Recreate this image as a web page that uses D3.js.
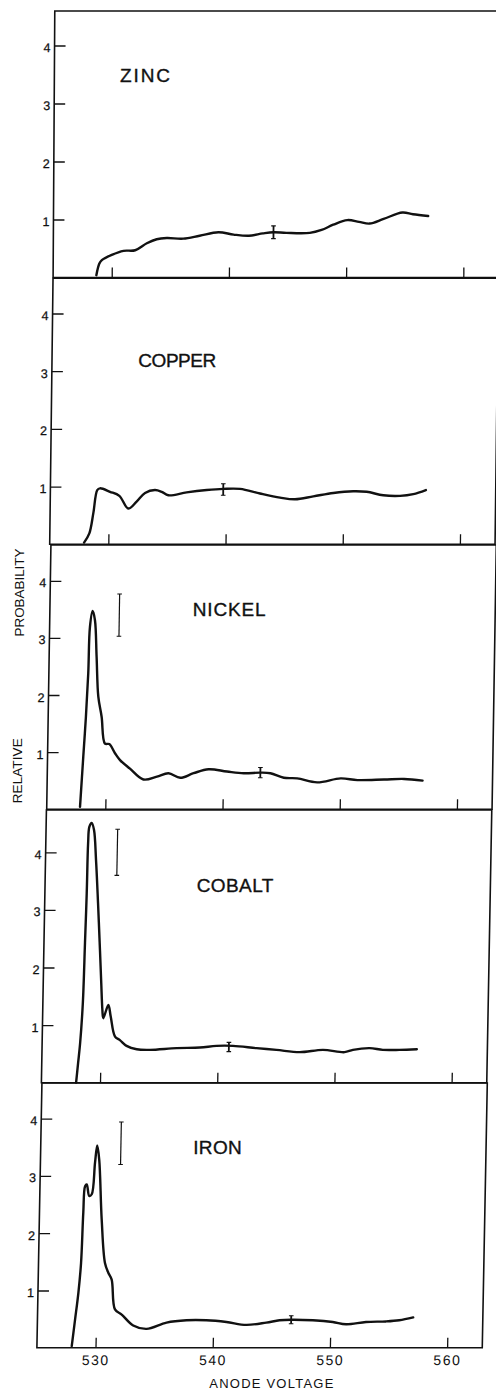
<!DOCTYPE html>
<html>
<head>
<meta charset="utf-8">
<script src="https://cdn.jsdelivr.net/npm/d3@7"></script>
<style>
  html, body { margin: 0; padding: 0; background: #fff; }
  svg { display: block; }
  text { font-family: "Liberation Sans", Arial, sans-serif; fill: #111; }
</style>
</head>
<body>
<svg id="fig" width="496" height="1390"></svg>
<script>
// ---- axis ticks ----
const voltageTicks = [530, 540, 550, 560];
const probabilityTicks = [1, 2, 3, 4];
const voltageRange = [525, 563];

// ---- panels, top to bottom ----
const elements = ["ZINC", "COPPER", "NICKEL", "COBALT", "IRON"];

// relative probability vs anode voltage: [volts, relative probability]
const zincCurve = [
  [528.69, 0.04], [528.94, 0.24], [529.15, 0.30], [529.99, 0.39], [530.99, 0.46],
  [531.99, 0.47], [532.98, 0.59], [533.82, 0.66], [534.68, 0.68], [536.08, 0.67],
  [537.48, 0.72], [539.08, 0.78], [540.38, 0.74], [541.68, 0.72], [542.88, 0.76],
  [543.78, 0.78], [544.88, 0.77], [546.88, 0.77], [547.88, 0.82], [548.87, 0.91],
  [550.07, 0.99], [551.07, 0.96], [551.97, 0.93], [553.17, 1.01], [554.77, 1.12],
  [555.67, 1.09], [556.97, 1.06]
];
const copperCurve = [
  [527.93, 0.03], [528.37, 0.19], [528.69, 0.54], [529.00, 0.94], [529.23, 0.97],
  [530.09, 0.91], [530.89, 0.84], [531.67, 0.62], [532.37, 0.74], [533.08, 0.89],
  [533.92, 0.94], [534.50, 0.91], [535.07, 0.85], [536.63, 0.90], [538.34, 0.94],
  [539.75, 0.96], [541.18, 0.96], [542.89, 0.88], [544.60, 0.81], [545.88, 0.78],
  [547.44, 0.83], [549.15, 0.89], [550.84, 0.92], [551.99, 0.91], [553.41, 0.85],
  [554.84, 0.84], [555.97, 0.87], [557.04, 0.94]
];
const nickelCurve = [
  [527.84, 0.04], [528.05, 0.92], [528.22, 1.62], [528.36, 2.38], [528.44, 3.19],
  [528.65, 3.47], [528.86, 3.31], [529.05, 2.67], [529.25, 1.97], [529.56, 1.62],
  [529.88, 1.15], [530.25, 1.14], [530.75, 0.98], [531.19, 0.86], [532.05, 0.71],
  [533.21, 0.52], [534.36, 0.57], [535.34, 0.63], [536.35, 0.55], [537.48, 0.63],
  [538.76, 0.70], [540.33, 0.66], [541.76, 0.63], [543.18, 0.64], [544.04, 0.63],
  [545.19, 0.55], [546.33, 0.54], [548.04, 0.47], [550.04, 0.54], [551.47, 0.51],
  [553.74, 0.52], [555.45, 0.53], [557.03, 0.50]
];
const cobaltCurve = [
  [527.96, 0.00], [528.10, 0.34], [528.24, 0.68], [528.41, 1.38], [528.50, 2.43],
  [528.57, 3.29], [528.61, 4.16], [528.69, 4.44], [528.88, 4.51], [529.09, 4.39],
  [529.31, 3.87], [529.55, 3.12], [529.79, 2.30], [529.95, 1.73], [530.09, 1.26],
  [530.18, 1.12], [530.59, 1.35], [530.81, 1.15], [531.21, 0.80], [531.63, 0.74],
  [532.21, 0.64], [533.08, 0.58], [534.21, 0.57], [536.48, 0.60], [538.47, 0.61],
  [539.88, 0.64], [541.29, 0.64], [543.30, 0.60], [545.00, 0.57], [547.00, 0.53],
  [548.97, 0.57], [550.82, 0.53], [551.53, 0.57], [552.95, 0.60], [554.08, 0.57],
  [555.50, 0.57], [556.98, 0.58]
];
const ironCurve = [
  [527.97, 0.03], [528.21, 0.49], [528.45, 0.96], [528.63, 1.48], [528.74, 2.36],
  [528.85, 2.82], [528.99, 2.85], [529.22, 2.65], [529.43, 2.68], [529.66, 3.23],
  [529.82, 3.53], [530.01, 3.29], [530.32, 2.24], [530.67, 1.48], [530.97, 1.31],
  [531.27, 1.19], [531.60, 0.67], [532.18, 0.58], [533.18, 0.39], [534.33, 0.33],
  [536.02, 0.44], [537.72, 0.48], [539.42, 0.48], [541.13, 0.45], [542.83, 0.40],
  [544.53, 0.44], [545.66, 0.48], [546.65, 0.49], [548.50, 0.48], [550.20, 0.45],
  [551.34, 0.41], [553.04, 0.45], [554.74, 0.46], [555.87, 0.48], [557.06, 0.53]
];

// error bars: [volts, centre value, half range]
const zincErrors   = [[543.78, 0.78, 0.11]];
const copperErrors = [[539.75, 0.95, 0.10]];
const nickelErrors = [[530.93, 3.40, 0.37], [543.18, 0.64, 0.09]];
const cobaltErrors = [[531.11, 4.00, 0.40], [540.94, 0.62, 0.08]];
const ironErrors   = [[531.84, 3.57, 0.37], [546.65, 0.49, 0.07]];

const curves = [zincCurve, copperCurve, nickelCurve, cobaltCurve, ironCurve];
const errorBars = [zincErrors, copperErrors, nickelErrors, cobaltErrors, ironErrors];

// ---- page layout of each panel (pixels) ----
const panelLayout = [
  { left: 53.1, zero: 277.5,  top: 11,    unit: 58.0, lean: 0.0063, label: [120.0, 81.7, 50] },
  { left: 49.7, zero: 544.3,  top: 278.3, unit: 57.7, lean: 0.0125, label: [138.3, 366.7, 78] },
  { left: 46.7, zero: 809.2,  top: 545,   unit: 57.1, lean: 0.016,  label: [192.7, 616.0, 73] },
  { left: 41.4, zero: 1082.7, top: 810,   unit: 57.6, lean: 0.0184, label: [196.7, 891.7, 76.6] },
  { left: 36.9, zero: 1347.8, top: 1083,  unit: 57.3, lean: 0.019,  label: [193.3, 1154.0, 48.4] }
];
const pxPerVolt = 11.72;

const svg = d3.select("#fig");
svg.append("rect").attr("width", 496).attr("height", 1390).attr("fill", "#fff");

const ink = "#111";

elements.forEach((name, i) => {
  const L = panelLayout[i];
  const width = (voltageRange[1] - voltageRange[0]) * pxPerVolt;
  const x = d3.scaleLinear().domain(voltageRange).range([0, width]);
  const y = d3.scaleLinear().domain([0, 4]).range([0, -4 * L.unit]);
  const angle = -Math.atan(L.lean) * 180 / Math.PI;

  const g = svg.append("g")
    .attr("transform", `translate(${L.left},${L.zero}) skewX(${angle})`);

  // frame
  g.append("rect")
    .attr("x", 0).attr("y", L.top - L.zero)
    .attr("width", width).attr("height", L.zero - L.top)
    .attr("fill", "none").attr("stroke", ink).attr("stroke-width", 1.6);

  // y axis: inward ticks, labels outside
  const yAxis = g.append("g").call(
    d3.axisLeft(y).tickValues(probabilityTicks).tickSize(-11).tickPadding(4)
      .tickFormat(d3.format("d")));
  yAxis.select(".domain").remove();
  yAxis.selectAll(".tick line").attr("stroke", ink).attr("stroke-width", 1.3);
  yAxis.selectAll(".tick text")
    .attr("font-size", 12.5).attr("fill", ink)
    .attr("stroke", ink).attr("stroke-width", 0.25)
    .attr("font-family", "'Liberation Sans', Arial, sans-serif")
    .attr("dy", "0.48em");

  // x axis: upward ticks, numbers only on the bottom panel
  const last = i === elements.length - 1;
  const xAxis = g.append("g").call(
    d3.axisBottom(x).tickValues(voltageTicks).tickSize(-10).tickPadding(7)
      .tickFormat(last ? d3.format("d") : () => ""));
  xAxis.select(".domain").remove();
  xAxis.selectAll(".tick line").attr("stroke", ink).attr("stroke-width", 1.3);
  xAxis.selectAll(".tick text")
    .attr("font-size", 14).attr("fill", ink)
    .attr("letter-spacing", 1.5)
    .attr("font-family", "'Liberation Sans', Arial, sans-serif");

  // measured curve
  const line = d3.line()
    .x(d => x(d[0])).y(d => y(d[1]))
    .curve(d3.curveCatmullRom.alpha(0.5));
  g.append("path")
    .datum(curves[i])
    .attr("d", line)
    .attr("fill", "none").attr("stroke", ink)
    .attr("stroke-width", 2.4)
    .attr("stroke-linejoin", "round").attr("stroke-linecap", "round");

  // error bars
  const eb = g.selectAll(".err").data(errorBars[i]).join("g").attr("class", "err");
  eb.append("line")
    .attr("x1", d => x(d[0])).attr("x2", d => x(d[0]))
    .attr("y1", d => y(d[1] - d[2])).attr("y2", d => y(d[1] + d[2]))
    .attr("stroke", ink).attr("stroke-width", d => d[2] > 0.2 ? 1.2 : 1.8);
  [-1, 1].forEach(s => {
    eb.append("line")
      .attr("x1", d => x(d[0]) - 2.3).attr("x2", d => x(d[0]) + 2.3)
      .attr("y1", d => y(d[1] + s * d[2])).attr("y2", d => y(d[1] + s * d[2]))
      .attr("stroke", ink).attr("stroke-width", 1.1);
  });

  // element name
  svg.append("text")
    .attr("x", L.label[0]).attr("y", L.label[1])
    .attr("font-size", 19)
    .attr("textLength", L.label[2]).attr("lengthAdjust", "spacing")
    .attr("stroke", ink).attr("stroke-width", 0.35)
    .text(name);
});

// axis titles
svg.append("text")
  .attr("transform", "translate(24,592.5) rotate(-90)")
  .attr("text-anchor", "middle").attr("font-size", 13.5)
  .attr("textLength", 88).attr("lengthAdjust", "spacing")
  .text("PROBABILITY");
svg.append("text")
  .attr("transform", "translate(21.5,770.8) rotate(-90)")
  .attr("text-anchor", "middle").attr("font-size", 13.5)
  .attr("textLength", 65).attr("lengthAdjust", "spacing")
  .text("RELATIVE");
svg.append("text")
  .attr("x", 271.3).attr("y", 1388.3)
  .attr("text-anchor", "middle").attr("font-size", 13)
  .attr("textLength", 124).attr("lengthAdjust", "spacing")
  .text("ANODE  VOLTAGE");
</script>
</body>
</html>
